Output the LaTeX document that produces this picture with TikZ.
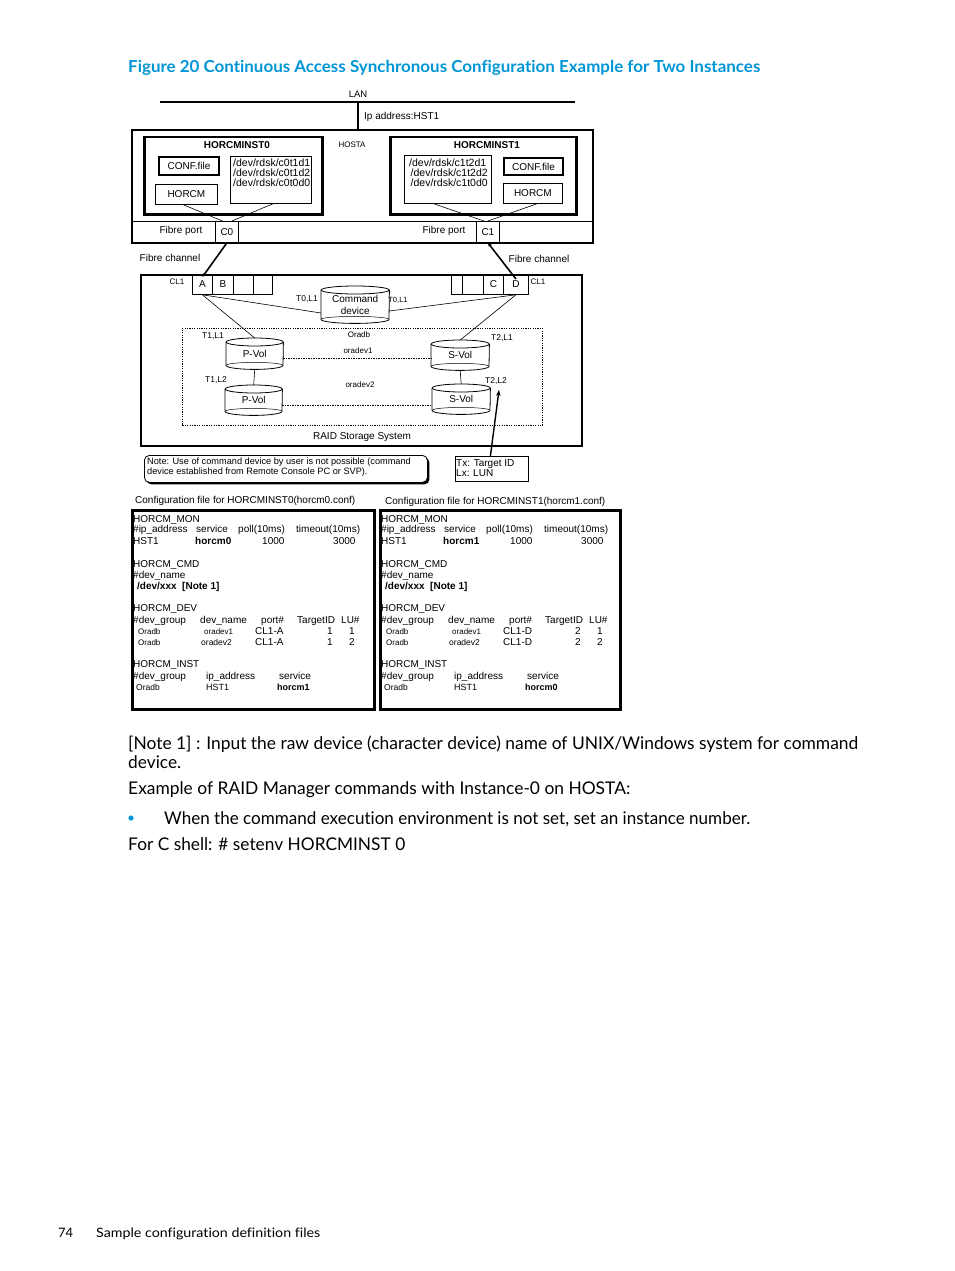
\documentclass[tikz,border=0pt]{standalone}
\usepackage{fontspec}
\usepackage{graphicx}
\setmainfont{Liberation Sans}
\newfontfamily\hpfont[Ligatures=NoCommon]{Lato}
\usetikzlibrary{calc,arrows.meta,shadows}
\definecolor{hpblue}{RGB}{0,150,214}
\tikzset{
 fs/.style={font=\fontsize{#1}{#1}\selectfont},
 lbl/.style={inner sep=0pt, fs=10},
 thickbox/.style={draw, line width=2.2pt, inner sep=0pt},
 thinbox/.style={draw, line width=0.8pt, inner sep=0pt},
 cell/.style={draw, line width=0.8pt, inner sep=0pt, fs=10},
 wire/.style={line width=0.6pt},
 fibre/.style={line width=1.6pt},
 orad/.style={line width=0.6pt, dash pattern=on 1.5pt off 1pt},
}
% [opts] name style x1 y1 x2 y2 text
\newcommand\bxn[8][]{\node[#3, anchor=north west, minimum width=#6pt-#4pt, minimum height=#7pt-#5pt, #1] (#2) at (#4,#5) {#8};}
% name x1 y1 x2 y2 text
\newcommand\cylnode[6]{%
 \node[inner sep=0pt, anchor=north west, minimum width=#4pt-#2pt, minimum height=#5pt-#3pt, align=center, fs=10] (#1) at (#2,#3) {#6};
 \draw[line width=0.8pt] ([yshift=-4pt]#1.north west) -- ([yshift=4pt]#1.south west)
   arc[start angle=180, end angle=360, x radius={(#4pt-#2pt)/2}, y radius=4pt] -- ([yshift=-4pt]#1.north east);
 \draw[line width=0.8pt] ([yshift=-4pt]#1.north) ellipse[x radius={(#4pt-#2pt)/2}, y radius=4pt];
 \draw[line width=0.5pt] ([yshift=4pt]#1.south west) arc[start angle=180, end angle=0, x radius={(#4pt-#2pt)/2}, y radius=3pt];
}
% prefix dx svc port tid inst
\newcommand\cfgtext[6]{%
\begin{scope}[xshift=#2pt, yshift=-1.5pt, every node/.style={lbl, anchor=west, text height=7pt, text depth=2pt}]
\node (#1mon) at (133,518) {HORCM\_MON};
\node (#1ha) at (133,528) {\#ip\_address};
\node (#1hb) at (196,528) {service};
\node (#1hc) at (238,528) {poll(10ms)};
\node (#1hd) at (296,528) {timeout(10ms)};
\node (#1va) at (133,540) {HST1};
\node (#1vb) at (195,540) {\textbf{#3}};
\node (#1vc) at (262,540) {1000};
\node (#1vd) at (333,540) {3000};
\node (#1cmd) at (133,563) {HORCM\_CMD};
\node (#1hn) at (133,574) {\#dev\_name};
\node (#1vn) at (137,585) {\textbf{/dev/xxx\ \ [Note 1]}};
\node (#1dev) at (133,607) {HORCM\_DEV};
\node (#1ga) at (133,619) {\#dev\_group};
\node (#1gb) at (200,619) {dev\_name};
\node (#1gc) at (261,619) {port\#};
\node (#1gd) at (297,619) {TargetID};
\node (#1ge) at (341,619) {LU\#};
\node[fs=8] (#1ra) at (138,630) {Oradb};
\node[fs=8] (#1rb) at (204,630) {oradev1};
\node (#1rc) at (255,630) {#4};
\node (#1rd) at (327,630) {#5};
\node (#1re) at (349,630) {1};
\node[fs=8] (#1sa) at (138,641) {Oradb};
\node[fs=8.5] (#1sb) at (201,641) {oradev2};
\node (#1sc) at (255,641) {#4};
\node (#1sd) at (327,641) {#5};
\node (#1se) at (349,641) {2};
\node (#1inst) at (133,663) {HORCM\_INST};
\node (#1ia) at (133,675) {\#dev\_group};
\node (#1ib) at (206,675) {ip\_address};
\node (#1ic) at (279,675) {service};
\node[fs=8.5] (#1ja) at (136,686) {Oradb};
\node[fs=9] (#1jb) at (206,686) {HST1};
\node[fs=9] (#1jc) at (277,686) {\textbf{#6}};
\end{scope}}
\begin{document}
\begin{tikzpicture}[x=1pt,y=-1pt]
\useasboundingbox (0,0) rectangle (954,1271);
\fill[white] (0,0) rectangle (954,1271);
% title
\node[anchor=base west, inner sep=0pt, text=hpblue] (title) at (128,73)
  {\resizebox{632pt}{\height}{\hpfont\bfseries\fontsize{16.5}{18}\selectfont Figure 20 Continuous Access Synchronous Configuration Example for Two Instances}};
% LAN
\coordinate (lanL) at (160,102);
\coordinate (lanR) at (575,102);
\coordinate (lanJ) at (358,102);
\draw[line width=2pt] (lanL) -- (lanR);
\node[lbl, fs=9.5] (lan) at (358,94) {LAN};
\node[lbl, anchor=west] (ip) at (364,116.5) {Ip address:HST1};
% HOSTA
\bxn{hosta}{thickbox}{131}{129}{592}{242}{}
\draw[line width=1.2pt] (lanJ) -- (lanJ |- hosta.north);
\coordinate (yport) at (0,221);
\draw[line width=0.6pt] (hosta.west |- yport) -- (hosta.east |- yport);
\node[lbl, fs=8] (hostaL) at (352,145) {HOSTA};
% instance 0
\bxn[line width=2.5pt]{inst0}{thickbox}{143}{136}{321}{213}{}
\node[lbl, font=\fontsize{10}{10}\selectfont\bfseries] (inst0t) at (237,145) {HORCMINST0};
\bxn[line width=2pt]{confA}{thickbox}{158}{156}{218}{174}{CONF.file}
\bxn{horcmA}{thinbox}{155}{184}{217}{204}{HORCM}
\bxn{devA}{thinbox}{230}{156}{311}{203}{}
\node[lbl, fs=10.5, anchor=north west, align=left] (devAt) at (233,159) {/dev/rdsk/c0t1d1\\[-0.5pt]/dev/rdsk/c0t1d2\\[-0.5pt]/dev/rdsk/c0t0d0};
\bxn{cZero}{cell}{215}{221}{238}{242}{C0}
\node[lbl] (fpA) at (181,231) {Fibre port};
\draw[wire] ([xshift=-3pt]horcmA.south) -- ([xshift=-4.5pt]cZero.north);
\draw[wire] ([xshift=2pt]devA.south) -- ([xshift=5pt]cZero.north);
% instance 1
\bxn[line width=2.5pt]{inst1}{thickbox}{389}{136}{575}{213}{}
\node[lbl, font=\fontsize{10}{10}\selectfont\bfseries] (inst1t) at (487,145) {HORCMINST1};
\bxn{devB}{thinbox}{404}{155}{491}{203}{}
\node[lbl, fs=10.5, anchor=north west, align=left] (devBt) at (409,159) {/dev/rdsk/c1t2d1\\[-0.5pt]\hspace*{1.5pt}/dev/rdsk/c1t2d2\\[-0.5pt]\hspace*{1.5pt}/dev/rdsk/c1t0d0};
\bxn[line width=2pt]{confB}{thickbox}{503}{157}{562}{174}{CONF.file}
\bxn{horcmB}{thinbox}{503}{183}{562}{203}{HORCM}
\bxn{cOne}{cell}{476}{221}{499}{242}{C1}
\node[lbl] (fpB) at (444,231) {Fibre port};
\draw[wire] ([xshift=-14pt]devB.south) -- ([xshift=-4pt]cOne.north);
\draw[wire] ([xshift=4pt]horcmB.south) -- ([xshift=0pt]cOne.north);
% RAID
\bxn{raid}{thickbox}{140}{274}{581}{445}{}
\node[lbl] (raidL) at (362,437) {RAID Storage System};
\bxn{cA}{cell}{192}{274}{212}{294}{A}
\bxn{cB}{cell}{212}{274}{233}{294}{B}
\bxn{cL3}{cell}{233}{274}{253}{294}{}
\bxn{cL4}{cell}{253}{274}{272}{294}{}
\bxn{cR1}{cell}{451}{274}{462}{294}{}
\bxn{cR2}{cell}{462}{274}{483}{294}{}
\bxn{cC}{cell}{483}{274}{503}{294}{C}
\bxn{cD}{cell}{503}{274}{528}{294}{D}
\node[lbl, fs=8] (cl1A) at (177,282) {CL1};
\node[lbl, fs=8] (cl1B) at (538,282) {CL1};
\node[lbl] (fcA) at (170,258) {Fibre channel};
\node[lbl] (fcB) at (539,259) {Fibre channel};
\draw[fibre, -{Stealth[length=4pt,width=3.5pt]}] (cZero.south) -- ([yshift=-3pt]cA.north);
\draw[fibre, {Stealth[length=4pt,width=3.5pt]}-] (cOne.south) -- ([yshift=-5pt]cD.north);
% command device
\cylnode{cmd}{321}{286}{389}{323}{Command\\[2pt]device}
\node[lbl, fs=8.5] (t0a) at (307,299) {T0,L1};
\node[lbl, fs=7.5] (t0b) at (398,300) {T0,L1};
% oradb group
\bxn[line width=0.6pt, dash pattern=on 1.2pt off 1.2pt]{oradb}{draw}{182}{328}{542}{425}{}
\node[lbl, fs=8] (oradbL) at (359,335) {Oradb};
\cylnode{pv1}{226}{338}{283}{369}{P-Vol}
\cylnode{pv2}{225}{385}{282}{415}{P-Vol}
\cylnode{sv1}{431}{340}{489}{370}{S-Vol}
\cylnode{sv2}{432}{384}{490}{414}{S-Vol}
\node[lbl, fs=8.5] (t11) at (213,336) {T1,L1};
\node[lbl, fs=8.5] (t12) at (216,380) {T1,L2};
\node[lbl, fs=8.5] (t21) at (502,338) {T2,L1};
\node[lbl, fs=8.5] (t22) at (496,381) {T2,L2};
\draw[wire] (pv1.south) -- (pv2.north);
\draw[wire] (sv1.south) -- (sv2.north);
\coordinate (y313) at (0,313);
\coordinate (y311) at (0,311);
\coordinate (y358) at (0,358);
\coordinate (y405) at (0,405);
\draw[wire] (cA.south) -- (cmd.west |- y313);
\draw[wire] (cA.south) -- (pv1.north);
\draw[wire] (cD.south) -- (cmd.east |- y311);
\draw[wire] (cD.south) -- (sv1.north);
\draw[orad] (pv1.east |- y358) -- (sv1.west |- y358);
\draw[orad] (pv2.east |- y405) -- (sv2.west |- y405);
\node[lbl, fs=8] (od1) at (358,351) {oradev1};
\node[lbl, fs=8] (od2) at (360,385) {oradev2};
% note
\node[draw, line width=0.8pt, rounded corners=5pt, fill=white, inner sep=0pt,
  drop shadow={shadow xshift=2pt, shadow yshift=-2pt, opacity=1, fill=black},
  anchor=north west, minimum width=283pt, minimum height=27pt] (note) at (144,455) {};
\node[lbl, font=\fontsize{9.2}{10}\selectfont, anchor=north west, align=left] (notet) at (147,457.5) {Note: Use of command device by user is not possible (command\\device established from Remote Console PC or SVP).};
% Tx box
\bxn{tx}{thinbox}{455}{456}{528}{481}{}
\node[lbl, anchor=north west, align=left] (txt) at (456,459) {Tx: Target ID\\[0pt]Lx: LUN};
\coordinate (txtip) at (499,390);
\draw[line width=1.4pt, -{Stealth[length=6pt,width=4.5pt]}] ([xshift=-1.5pt]tx.north) -- (txtip);
% config files
\node[lbl, anchor=west] (cfgT0) at (135,501) {Configuration file for HORCMINST0(horcm0.conf)};
\node[lbl, anchor=west] (cfgT1) at (385,502) {Configuration file for HORCMINST1(horcm1.conf)};
\bxn[line width=2.5pt]{cfg0}{thickbox}{131}{509}{373}{708}{}
\bxn[line width=2.5pt]{cfg1}{thickbox}{379}{509}{619}{708}{}
\cfgtext{a}{0}{horcm0}{CL1-A}{1}{horcm1}
\cfgtext{b}{248}{horcm1}{CL1-D}{2}{horcm0}
% body text
\node[anchor=base west, inner sep=0pt] (b1) at (128,749) {\resizebox{730pt}{\height}{\hpfont\fontsize{17.5}{20}\selectfont [Note 1] : Input the raw device (character device) name of UNIX/Windows system for command}};
\node[anchor=base west, inner sep=0pt] (b2) at (128,768) {\resizebox{53pt}{\height}{\hpfont\fontsize{17.5}{20}\selectfont device.}};
\node[anchor=base west, inner sep=0pt] (b3) at (128,794) {\resizebox{502pt}{\height}{\hpfont\fontsize{17.5}{20}\selectfont Example of RAID Manager commands with Instance-0 on HOSTA:}};
\fill[hpblue] (131,818) circle[radius=2.6pt];
\node[anchor=base west, inner sep=0pt] (b4) at (164,824) {\resizebox{586pt}{\height}{\hpfont\fontsize{17.5}{20}\selectfont When the command execution environment is not set, set an instance number.}};
\node[anchor=base west, inner sep=0pt] (b5) at (128,850) {\resizebox{277pt}{\height}{\hpfont\fontsize{17.5}{20}\selectfont For C shell: \# setenv HORCMINST 0}};
% footer
\node[anchor=base west, inner sep=0pt] (pg) at (58,1237) {\resizebox{15pt}{\height}{\hpfont\fontsize{13}{15}\selectfont 74}};
\node[anchor=base west, inner sep=0pt] (ft) at (96,1237) {\resizebox{224pt}{\height}{\hpfont\fontsize{13}{15}\selectfont Sample configuration definition files}};
\end{tikzpicture}
\end{document}
